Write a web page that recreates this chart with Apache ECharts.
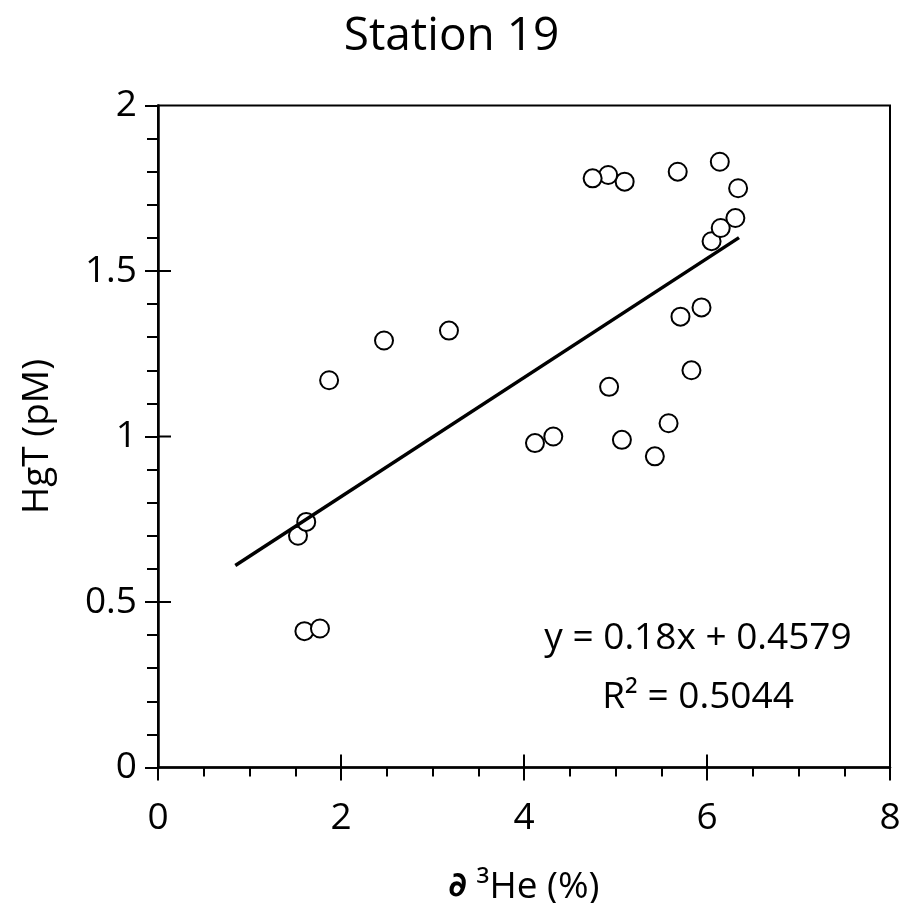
<!DOCTYPE html>
<html>
<head>
<meta charset="utf-8">
<script src="https://cdn.jsdelivr.net/npm/echarts@6/dist/echarts.min.js"></script>
<style>html,body{margin:0;padding:0;background:#fff;}#c{width:903px;height:903px;}</style>
</head>
<body>
<div id="c"></div>
<script>
const titleText = 'Station 19';
const yName = 'HgT (pM)';
const xValues = [1.53, 1.62, 1.60, 1.77, 1.87, 2.47, 3.18, 4.12, 4.32, 4.93, 5.07, 5.43, 5.58, 5.83, 5.71, 5.94, 6.05, 6.15, 6.31, 6.34, 6.14, 5.68, 5.10, 4.92, 4.75];
const yValues = [0.70, 0.742, 0.412, 0.42, 1.17, 1.29, 1.32, 0.98, 1.00, 1.15, 0.99, 0.94, 1.04, 1.20, 1.362, 1.39, 1.59, 1.63, 1.66, 1.75, 1.83, 1.80, 1.77, 1.79, 1.78];
const xMajorTicks = [2, 4, 6];
const yMajorTicks = [0.5, 1, 1.5];
const trendSlope = 0.18;
const trendIntercept = 0.4579;
const trendXRange = [0.845, 6.35];
const eqLine1 = 'y = 0.18x + 0.4579';
const eqLine2 = 'R² = 0.5044';

const FONT = 'Open Sans';
const TICK_IN = 13;
const points = xValues.map((x, i) => [x, yValues[i]]);
const trend = trendXRange.map(x => [x, trendSlope * x + trendIntercept]);

const chart = echarts.init(document.getElementById('c'));
const tickStyle = {color: '#000', width: 2};
chart.setOption({
  backgroundColor: '#fff',
  animation: false,
  title: {
    text: titleText, left: 'center', top: 9,
    textStyle: {fontFamily: FONT, fontSize: 46, fontWeight: 'normal', color: '#000'}
  },
  grid: {left: 158, right: 13, top: 105.5, bottom: 135.5, outerBoundsMode: 'none', containLabel: false,
         show: true, borderColor: '#000', borderWidth: 2, backgroundColor: 'transparent'},
  xAxis: {
    type: 'value', min: 0, max: 8, interval: 2, splitLine: {show: false},
    name: '{b|∂} {n|³He (%)}', nameLocation: 'middle', nameGap: 101,
    nameTextStyle: {fontFamily: FONT, fontSize: 37, color: '#000',
      rich: {b: {fontFamily: 'DejaVu Sans', fontSize: 34, fontWeight: 'bold', color: '#000'},
             n: {fontFamily: FONT, fontSize: 37, color: '#000'}}},
    axisLine: {show: true, lineStyle: {color: '#000', width: 2.5}},
    axisTick: {show: true, inside: false, length: 13, lineStyle: tickStyle},
    minorTick: {show: true, splitNumber: 4, length: 9, lineStyle: tickStyle},
    axisLabel: {fontFamily: FONT, fontSize: 37, color: '#000', margin: 32}
  },
  yAxis: {
    type: 'value', min: 0, max: 2, interval: 0.5, splitLine: {show: false},
    name: yName, nameLocation: 'middle', nameGap: 102,
    nameTextStyle: {fontFamily: FONT, fontSize: 37, color: '#000'},
    axisLine: {show: true, lineStyle: {color: '#000', width: 2.5}},
    axisTick: {show: true, inside: false, length: 13, lineStyle: tickStyle},
    minorTick: {show: true, splitNumber: 5, length: 11, lineStyle: tickStyle},
    axisLabel: {fontFamily: FONT, fontSize: 37, color: '#000', margin: 21}
  },
  series: [
    {
      type: 'scatter', data: points,
      symbol: 'circle', symbolSize: 18,
      itemStyle: {color: '#fff', borderColor: '#000', borderWidth: 2, opacity: 1},
      z: 2
    },
    {
      type: 'line', data: trend,
      showSymbol: false, symbol: 'none',
      lineStyle: {color: '#000', width: 3.5},
      z: 3
    },
    {
      // inner half of the crossing major x ticks
      type: 'custom', silent: true, clip: false, z: 4,
      data: xMajorTicks.map(v => [v, 0]),
      renderItem: function (params, api) {
        const p = api.coord([api.value(0), api.value(1)]);
        return {type: 'line', shape: {x1: p[0], y1: p[1], x2: p[0], y2: p[1] - TICK_IN},
                style: {stroke: '#000', lineWidth: 2}};
      }
    },
    {
      // inner half of the crossing major y ticks
      type: 'custom', silent: true, clip: false, z: 4,
      data: yMajorTicks.map(v => [0, v]),
      renderItem: function (params, api) {
        const p = api.coord([api.value(0), api.value(1)]);
        return {type: 'line', shape: {x1: p[0], y1: p[1], x2: p[0] + TICK_IN, y2: p[1]},
                style: {stroke: '#000', lineWidth: 2}};
      }
    }
  ],
  graphic: [
    {type: 'text', x: 698, y: 638, z: 10,
     style: {text: eqLine1, fontFamily: FONT, fontSize: 37, fill: '#000', align: 'center', verticalAlign: 'middle'}},
    {type: 'text', x: 698, y: 697, z: 10,
     style: {text: eqLine2, fontFamily: FONT, fontSize: 37, fill: '#000', align: 'center', verticalAlign: 'middle'}}
  ]
});
</script>
</body>
</html>
